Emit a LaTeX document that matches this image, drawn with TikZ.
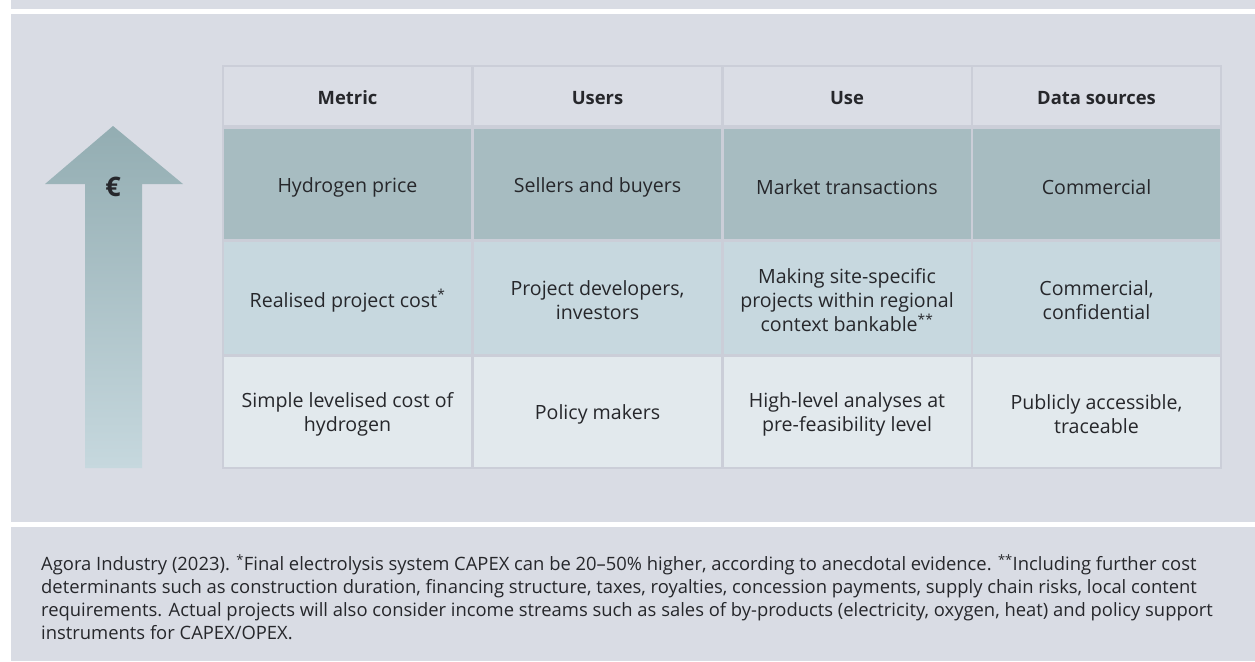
\documentclass[tikz,border=0pt]{standalone}
\usepackage{fontspec}
\setmainfont{Open Sans}
\definecolor{bg}{HTML}{D9DCE4}
\definecolor{gridc}{HTML}{CBCED8}
\definecolor{hdr}{HTML}{DADDE5}
\definecolor{rowa}{HTML}{A7BCC1}
\definecolor{rowb}{HTML}{C7D8DF}
\definecolor{rowc}{HTML}{E2E9ED}
\definecolor{arrtop}{HTML}{93ADB2}
\definecolor{arrbot}{HTML}{C6D8DE}
\definecolor{txt}{HTML}{26272B}
\newcommand{\supast}[1]{\textsuperscript{#1}}
\begin{document}
\begin{tikzpicture}[x=1pt,y=-1pt,
  cell/.style={inner sep=0pt, align=center, text=txt,
    font=\fontsize{19.6}{24}\selectfont},
  hcell/.style={cell, font=\bfseries\fontsize{18.4}{20}\selectfont},
  foot/.style={anchor=base west, inner sep=0pt, text=txt, font=\fontsize{18.4}{22.8}\selectfont}
]
\useasboundingbox (0,0) rectangle (1255,661);
\fill[white] (0,0) rectangle (1255,661);
\fill[bg] (11,0) rectangle (1255,9);
\fill[bg] (11,14) rectangle (1255,522);
\fill[bg] (11,527) rectangle (1255,661);

% arrow
\shade[top color=arrtop, bottom color=arrbot]
  (113,126) -- (183,184) -- (142,184) -- (142,468) -- (85,468) -- (85,184) -- (45,184) -- cycle;
\node[text=txt, font=\bfseries\fontsize{27}{27}\selectfont, inner sep=0pt] (euro) at (113,187) {€};

% table grid and cell fills
\fill[gridc] (222,65) rectangle (1222,468.5);
\foreach \xa/\xb in {224/471, 474/721, 723.5/970.5, 973/1220} {
  \fill[hdr]  (\xa,67)    rectangle (\xb,124.5);
  \fill[rowa] (\xa,129)   rectangle (\xb,239);
  \fill[rowb] (\xa,241.5) rectangle (\xb,354);
  \fill[rowc] (\xa,356.5) rectangle (\xb,466.5);
}

% header row
\node[hcell] (h1) at (347.5,98) {Metric};
\node[hcell] (h2) at (597.5,98) {Users};
\node[hcell] (h3) at (847,98) {Use};
\node[hcell] (h4) at (1096.5,98) {Data sources};

% row 1
\node[cell] (a1) at (347.5,187) {Hydrogen price};
\node[cell] (a2) at (597.5,187) {Sellers and buyers};
\node[cell] (a3) at (847,187) {Market transactions};
\node[cell] (a4) at (1096.5,187) {Commercial};

% row 2
\node[cell] (b1) at (347.5,300.5) {Realised project cost\supast{*}};
\node[cell] (b2) at (597.5,300.5) {Project developers,\\investors};
\node[cell] (b3) at (847,300.5) {Making site-specific\\projects within regional\\context bankable\supast{**}};
\node[cell] (b4) at (1096.5,300.5) {Commercial,\\confidential};

% row 3
\node[cell] (c1) at (347.5,414.5) {Simple levelised cost of\\hydrogen};
\node[cell] (c2) at (597.5,414.5) {Policy makers};
\node[cell] (c3) at (847,414.5) {High-level analyses at\\pre-feasibility level};
\node[cell] (c4) at (1096.5,414.5) {Publicly accessible,\\traceable};

% footnote
\node[foot] (f1) at (41,570.7) {Agora Industry (2023). \supast{*}Final electrolysis system CAPEX can be 20–50\% higher, according to anecdotal evidence. \supast{**}Including further cost};
\node[foot] (f2) at (41,593.5) {determinants such as construction duration, financing structure, taxes, royalties, concession payments, supply chain risks, local content};
\node[foot] (f3) at (41,616.3) {requirements. Actual projects will also consider income streams such as sales of by-products (electricity, oxygen, heat) and policy support};
\node[foot] (f4) at (41,639) {instruments for CAPEX/OPEX.};
\end{tikzpicture}
\end{document}
